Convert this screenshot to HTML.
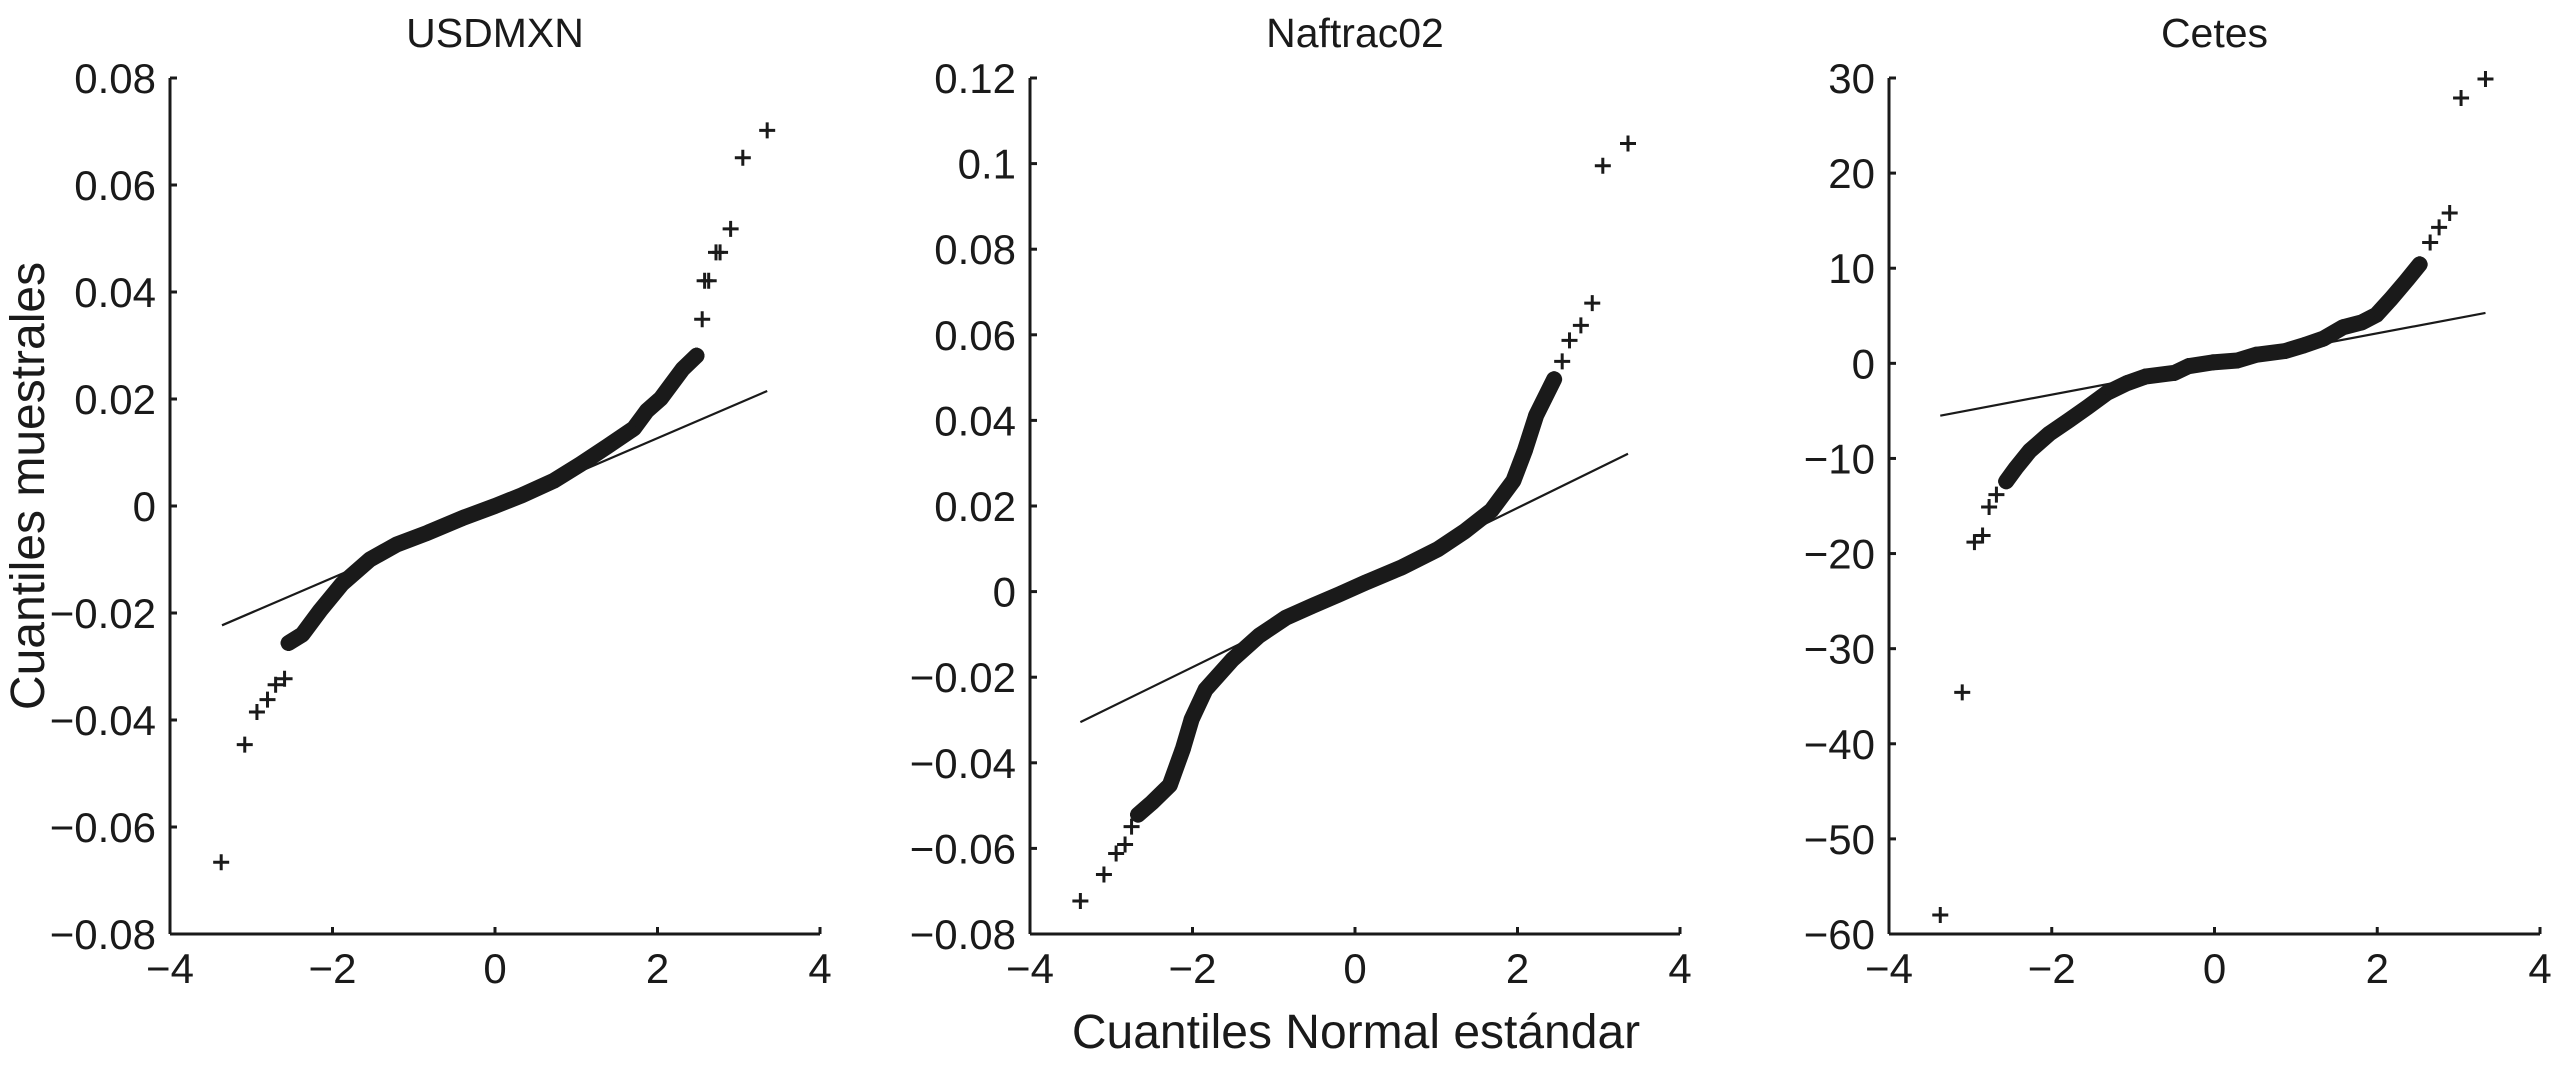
<!DOCTYPE html>
<html><head><meta charset="utf-8"><style>
html,body{margin:0;padding:0;background:#fff;}
svg{display:block;}
text{font-family:"Liberation Sans",Arial,sans-serif;fill:#1a1a1a;}
</style></head><body>
<svg id="chart" width="2551" height="1068" viewBox="0 0 2551 1068" xmlns="http://www.w3.org/2000/svg">
<text x="0" y="0" font-size="48" text-anchor="middle" transform="translate(44,486) rotate(-90)">Cuantiles muestrales</text>
<text x="1356" y="1048" font-size="48" text-anchor="middle">Cuantiles Normal estándar</text>
</svg>
<script>
// USDMXN
const usdTailX = [-3.37,-3.08,-2.93,-2.80,-2.70,-2.59,2.55,2.58,2.63,2.72,2.77,2.90,3.05,3.35];
const usdTailY = [-0.0666,-0.0446,-0.0385,-0.0362,-0.0334,-0.0323,0.0349,0.0421,0.0421,0.0474,0.0474,0.0518,0.0651,0.0702];
const usdBandX = [-2.54,-2.37,-2.15,-1.88,-1.54,-1.21,-0.83,-0.39,0,0.33,0.72,1.05,1.38,1.71,1.87,2.04,2.31,2.48];
const usdBandY = [-0.0256,-0.0240,-0.0195,-0.0145,-0.0100,-0.0072,-0.0050,-0.0022,0,0.0020,0.0047,0.0078,0.0111,0.0145,0.0178,0.0201,0.0256,0.0281];
const usdLineX = [-3.36,3.35];
const usdLineY = [-0.0223,0.0215];
const usdYTicks = [-0.08,-0.06,-0.04,-0.02,0,0.02,0.04,0.06,0.08];
const usdYLabels = ["\u22120.08","\u22120.06","\u22120.04","\u22120.02","0","0.02","0.04","0.06","0.08"];
// Naftrac02
const nafTailX = [-3.38,-3.09,-2.94,-2.83,-2.75,2.55,2.64,2.78,2.92,3.05,3.36];
const nafTailY = [-0.0723,-0.0661,-0.0612,-0.0591,-0.0549,0.0538,0.0587,0.0622,0.0674,0.0995,0.1047];
const nafBandX = [-2.67,-2.50,-2.28,-2.12,-2.01,-1.84,-1.51,-1.18,-0.85,-0.52,-0.19,0.14,0.58,1.02,1.35,1.68,1.95,2.09,2.23,2.45];
const nafBandY = [-0.0521,-0.0493,-0.0452,-0.0368,-0.0298,-0.0229,-0.0159,-0.0103,-0.0061,-0.0033,-0.0006,0.0022,0.0057,0.0099,0.0141,0.0190,0.0259,0.0329,0.0412,0.0496];
const nafLineX = [-3.38,3.36];
const nafLineY = [-0.0305,0.0322];
const nafYTicks = [-0.08,-0.06,-0.04,-0.02,0,0.02,0.04,0.06,0.08,0.1,0.12];
const nafYLabels = ["\u22120.08","\u22120.06","\u22120.04","\u22120.02","0","0.02","0.04","0.06","0.08","0.1","0.12"];
// Cetes
const cetTailX = [-3.37,-3.10,-2.95,-2.85,-2.77,-2.68,2.52,2.65,2.76,2.89,3.03,3.33];
const cetTailY = [-58.0,-34.6,-18.8,-18.1,-15.1,-13.8,10.4,12.7,14.3,15.8,27.9,29.9];
const cetBandX = [-2.56,-2.44,-2.27,-2.03,-1.79,-1.56,-1.32,-1.08,-0.85,-0.49,-0.32,-0.02,0.28,0.51,0.87,1.10,1.34,1.58,1.81,1.99,2.17,2.35,2.52];
const cetBandY = [-12.4,-11.0,-9.2,-7.4,-6.0,-4.6,-3.1,-2.1,-1.4,-1.0,-0.3,0.1,0.3,0.9,1.3,1.9,2.6,3.8,4.3,5.1,6.8,8.6,10.4];
const cetLineX = [-3.37,3.33];
const cetLineY = [-5.5,5.3];
const cetYTicks = [-60,-50,-40,-30,-20,-10,0,10,20,30];
const cetYLabels = ["\u221260","\u221250","\u221240","\u221230","\u221220","\u221210","0","10","20","30"];

const xTicks = [-4,-2,0,2,4];
const xLabels = ["\u22124","\u22122","0","2","4"];

const NS = "http://www.w3.org/2000/svg";
const svg = document.getElementById("chart");
function mk(tag, attrs, parent){
  const e = document.createElementNS(NS, tag);
  for (const k in attrs) e.setAttribute(k, attrs[k]);
  (parent||svg).appendChild(e);
  return e;
}
const TOP = 78, BOT = 934;

function panel(key, title, left, right, yMin, yMax, yTicks, yLabels, bx, by, tx, ty, lx, ly){
  const g = mk("g", {});
  
  
  const X = v => left + (v + 4) / 8 * (right - left);
  const Y = v => BOT - (v - yMin) / (yMax - yMin) * (BOT - TOP);
  const t = mk("text", {x:(left+right)/2, y:47, "font-size":41, "text-anchor":"middle"}, g);
  t.textContent = title;
  
  
  const ya = mk("line", {x1:left, y1:TOP, x2:left, y2:BOT, stroke:"#1a1a1a", "stroke-width":3}, g);
  
  
  const xa = mk("line", {x1:left, y1:BOT, x2:right, y2:BOT, stroke:"#1a1a1a", "stroke-width":3}, g);
  
  
  yTicks.forEach((v,i) => {
    const yy = Y(v);
    mk("line", {x1:left, y1:yy, x2:left+7, y2:yy, stroke:"#1a1a1a", "stroke-width":3}, g);
    const lb = mk("text", {x:left-14, y:yy+15, "font-size":42, "text-anchor":"end"}, g);
    lb.textContent = yLabels[i];
    
    
  });
  xTicks.forEach((v,i) => {
    const xx = X(v);
    mk("line", {x1:xx, y1:BOT, x2:xx, y2:BOT-7, stroke:"#1a1a1a", "stroke-width":3}, g);
    const lb = mk("text", {x:xx, y:983, "font-size":42, "text-anchor":"middle"}, g);
    lb.textContent = xLabels[i];
    
    
  });
  const ref = mk("line", {x1:X(lx[0]), y1:Y(ly[0]), x2:X(lx[1]), y2:Y(ly[1]), stroke:"#1a1a1a", "stroke-width":2.2}, g);
  
  
  const pts = bx.map((v,i) => X(v).toFixed(1) + "," + Y(by[i]).toFixed(1)).join(" ");
  const band = mk("polyline", {points:pts, fill:"none", stroke:"#1a1a1a", "stroke-width":16, "stroke-linejoin":"round", "stroke-linecap":"round"}, g);
  
  
  const allX = bx.concat(tx), allY = by.concat(ty);
  allX.forEach((v,i) => {
    const cx = X(v), cy = Y(allY[i]);
    const p = mk("path", {d:`M${cx-8},${cy}H${cx+8}M${cx},${cy-8}V${cy+8}`, stroke:"#1a1a1a", "stroke-width":3}, g);
    
    
  });
}
panel("usdmxn", "USDMXN", 170, 820, -0.08, 0.08, usdYTicks, usdYLabels, usdBandX, usdBandY, usdTailX, usdTailY, usdLineX, usdLineY);
panel("naftrac02", "Naftrac02", 1030, 1680, -0.08, 0.12, nafYTicks, nafYLabels, nafBandX, nafBandY, nafTailX, nafTailY, nafLineX, nafLineY);
panel("cetes", "Cetes", 1889, 2540, -60, 30, cetYTicks, cetYLabels, cetBandX, cetBandY, cetTailX, cetTailY, cetLineX, cetLineY);
</script>
</body></html>
